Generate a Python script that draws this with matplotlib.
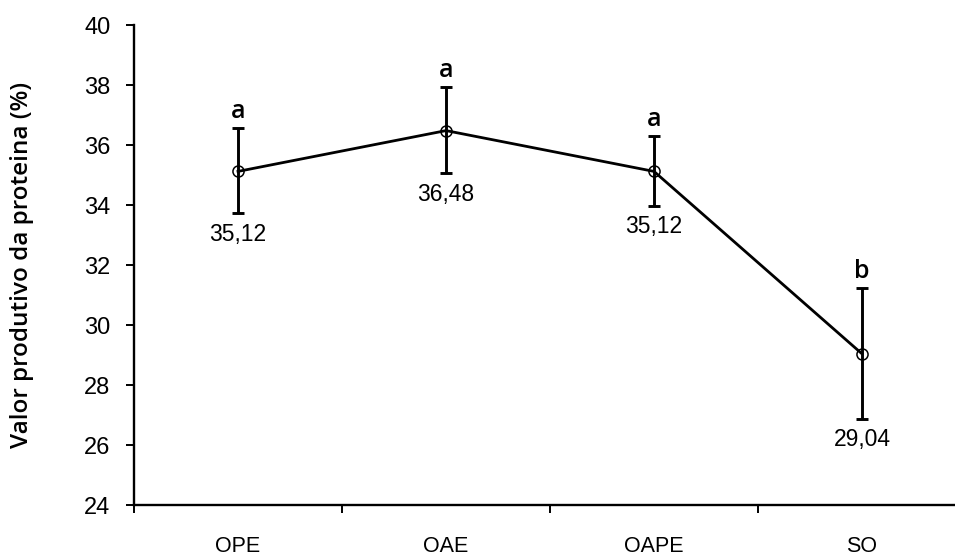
import matplotlib
matplotlib.use("Agg")
import matplotlib.pyplot as plt
import numpy as np

categories = ["OPE", "OAE", "OAPE", "SO"]
values = [35.12, 36.48, 35.12, 29.04]
err_upper = [36.56, 37.92, 36.29, 31.24]
err_lower = [33.72, 35.07, 33.98, 26.88]
value_labels = ["35,12", "36,48", "35,12", "29,04"]
letters = ["a", "a", "a", "b"]
yticks = [24, 26, 28, 30, 32, 34, 36, 38, 40]

fig = plt.figure(figsize=(9.55, 5.56), dpi=100)
W, H = 955, 556
left, right, top, bottom = 134, 966, 25, 505
ax = fig.add_axes([left / W, 1 - bottom / H, (right - left) / W, (bottom - top) / H])

x = np.arange(len(categories))
vals = np.array(values)
yerr = np.array([vals - np.array(err_lower), np.array(err_upper) - vals])

ax.errorbar(x, vals, yerr=yerr, fmt="none", ecolor="black", elinewidth=2.1,
            capsize=4.5, capthick=2.1, zorder=2)
ax.plot(x, vals, color="black", lw=2.0, zorder=3)
ax.plot(x, vals, "o", ms=8, mfc="none", mec="black", mew=1.1, zorder=4)

for xi, lo, hi, lab, let in zip(x, err_lower, err_upper, value_labels, letters):
    ax.annotate(lab, (xi, lo), xytext=(0, -7), textcoords="offset points",
                ha="center", va="top", fontsize=16.5, family="Liberation Sans")
    ax.annotate(let, (xi, hi), xytext=(0, 3), textcoords="offset points",
                ha="center", va="bottom", fontsize=18, family="Open Sans",
                fontweight="semibold")

ax.set_xlim(-0.5, len(categories) - 0.5)
ax.set_ylim(24, 40)
ax.set_yticks(yticks)
ax.set_yticklabels([str(t) for t in yticks], fontsize=17, family="Liberation Sans")
ax.set_xticks(np.arange(-0.5, len(categories), 1.0))
ax.set_xticklabels([])
ax.set_xticks(x, minor=True)
ax.set_xticklabels(categories, minor=True, fontsize=15.5, family="Liberation Sans")
ax.tick_params(axis="x", which="minor", length=0, pad=22)
ax.tick_params(axis="x", which="major", length=6, width=1.4, direction="out")
ax.tick_params(axis="y", length=6, width=1.4, direction="out", pad=11)

for s in ["top", "right"]:
    ax.spines[s].set_visible(False)
for s in ["left", "bottom"]:
    ax.spines[s].set_linewidth(1.7)

fig.text(22 / W, 1 - 265 / H, "Valor produtivo da proteina (%)", rotation=90,
         ha="center", va="center", fontsize=17.5, family="Open Sans",
         fontweight="semibold")

fig.savefig("out.png", dpi=100)
